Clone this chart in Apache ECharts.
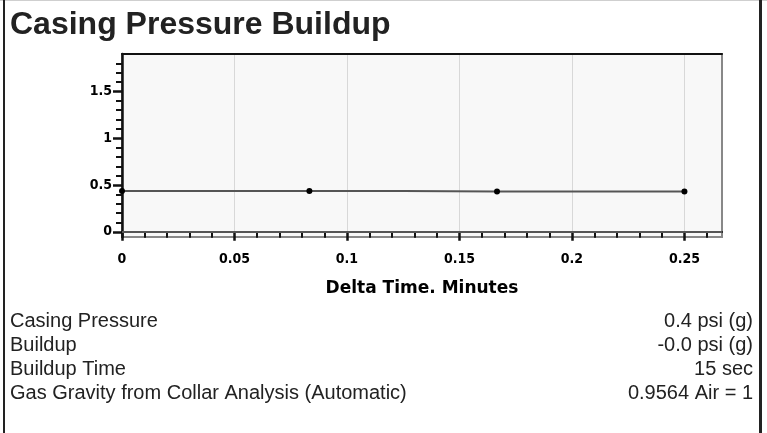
<!DOCTYPE html>
<html>
<head>
<meta charset="utf-8">
<script src="https://cdn.jsdelivr.net/npm/echarts@6/dist/echarts.min.js"></script>
<style>
  html, body { margin: 0; padding: 0; background: #fff; }
  #chart { width: 767px; height: 433px; }
</style>
</head>
<body>
<div id="chart"></div>
<script>
// delta time in minutes (5 sec steps) and casing pressure in psi
var deltaTime = [0, 0.0833, 0.1667, 0.25];
var pressure = [0.437, 0.437, 0.432, 0.432];

var xMajorTicks = [0, 0.05, 0.1, 0.15, 0.2, 0.25];
var xMinorTicks = [0.01, 0.02, 0.03, 0.04, 0.06, 0.07, 0.08, 0.09, 0.11, 0.12, 0.13, 0.14,
                   0.16, 0.17, 0.18, 0.19, 0.21, 0.22, 0.23, 0.24, 0.26];
var yMajorTicks = [0, 0.5, 1, 1.5];
var yMinorTicks = [0.1, 0.2, 0.3, 0.4, 0.6, 0.7, 0.8, 0.9, 1.1, 1.2, 1.3, 1.4, 1.6, 1.7, 1.8];

var infoLabels = ['Casing Pressure', 'Buildup', 'Buildup Time', 'Gas Gravity from Collar Analysis (Automatic)'];
var infoValues = ['0.4 psi (g)', '-0.0 psi (g)', '15 sec', '0.9564 Air = 1'];

var xMin = 0, xMax = 0.2667;
var yMin = -0.055, yMax = 1.9;

var tickFont = { fontFamily: 'DejaVu Sans Condensed', fontWeight: 'bold', fontSize: 14, color: '#000' };

var chart = echarts.init(document.getElementById('chart'));

var graphics = [
    { type: 'rect', left: 0, top: 0, shape: { width: 767, height: 1 }, style: { fill: '#cfcfcf' }, silent: true },
    { type: 'rect', left: 3, top: 0, shape: { width: 2, height: 433 }, style: { fill: '#222' }, silent: true },
    { type: 'rect', left: 759, top: 0, shape: { width: 3, height: 433 }, style: { fill: '#222' }, silent: true },
    { type: 'text', left: 10, top: 9, style: { text: 'Casing Pressure Buildup', fontFamily: 'Liberation Sans', fontWeight: 'bold', fontSize: 32, fill: '#222' } }
];
for (var i = 0; i < infoLabels.length; i++) {
    graphics.push({ type: 'text', left: 10, top: 311 + i * 24,
        style: { text: infoLabels[i], fontFamily: 'Liberation Sans', fontSize: 20, fill: '#222' } });
    graphics.push({ type: 'text', right: 14, top: 311 + i * 24,
        style: { text: infoValues[i], fontFamily: 'Liberation Sans', fontSize: 20, fill: '#222', align: 'right' } });
}

var option = {
    animation: false,
    graphic: graphics,
    grid: {
        left: 122, top: 54, width: 600, height: 183,
        show: true, backgroundColor: '#f8f8f8', borderColor: '#888', borderWidth: 2
    },
    xAxis: [
        {
            type: 'value', min: xMin, max: xMax, interval: 0.05, position: 'bottom',
            name: 'Delta Time. Minutes', nameLocation: 'middle', nameGap: 43,
            nameTextStyle: { fontFamily: 'DejaVu Sans', fontWeight: 'bold', fontSize: 17, color: '#000' },
            axisLine: { lineStyle: { color: '#111', width: 2 } },
            axisTick: { show: true, inside: false, length: 9, customValues: xMajorTicks, lineStyle: { color: '#111', width: 2.5 } },
            axisLabel: Object.assign({ customValues: xMajorTicks, margin: 15 }, tickFont),
            splitLine: { show: true, lineStyle: { color: '#d8d8d8', width: 1 } }
        },
        {
            type: 'value', min: xMin, max: xMax, position: 'bottom',
            axisLine: { show: false },
            axisTick: { show: true, length: 6, customValues: xMinorTicks, lineStyle: { color: '#111', width: 2 } },
            axisLabel: { show: false },
            splitLine: { show: false }
        },
        {
            type: 'value', min: xMin, max: xMax, position: 'top',
            axisLine: { lineStyle: { color: '#111', width: 2 } },
            axisTick: { show: false }, axisLabel: { show: false }, splitLine: { show: false }
        }
    ],
    yAxis: [
        {
            type: 'value', min: yMin, max: yMax, position: 'left',
            axisLine: { show: true, lineStyle: { color: '#111', width: 2.5 } },
            axisTick: { show: true, length: 9, customValues: yMajorTicks, lineStyle: { color: '#111', width: 2.5 } },
            axisLabel: Object.assign({ customValues: yMajorTicks, margin: 10 }, tickFont),
            splitLine: { show: false }
        },
        {
            type: 'value', min: yMin, max: yMax, position: 'left',
            axisLine: { show: false },
            axisTick: { show: true, length: 6, customValues: yMinorTicks, lineStyle: { color: '#111', width: 2 } },
            axisLabel: { show: false },
            splitLine: { show: false }
        }
    ],
    series: [
        {
            type: 'line',
            step: 'middle',
            data: deltaTime.map(function (t, k) { return [t, pressure[k]]; }),
            symbol: 'circle', symbolSize: 6,
            itemStyle: { color: '#000' },
            lineStyle: { color: '#555', width: 2 },
            markLine: {
                silent: true, symbol: 'none', label: { show: false },
                lineStyle: { color: '#555', width: 2, type: 'solid' },
                data: [{ yAxis: 0 }]
            }
        }
    ]
};

chart.setOption(option, true);
window.onresize = function () {
    chart.resize();
};
</script>
</body>
</html>
